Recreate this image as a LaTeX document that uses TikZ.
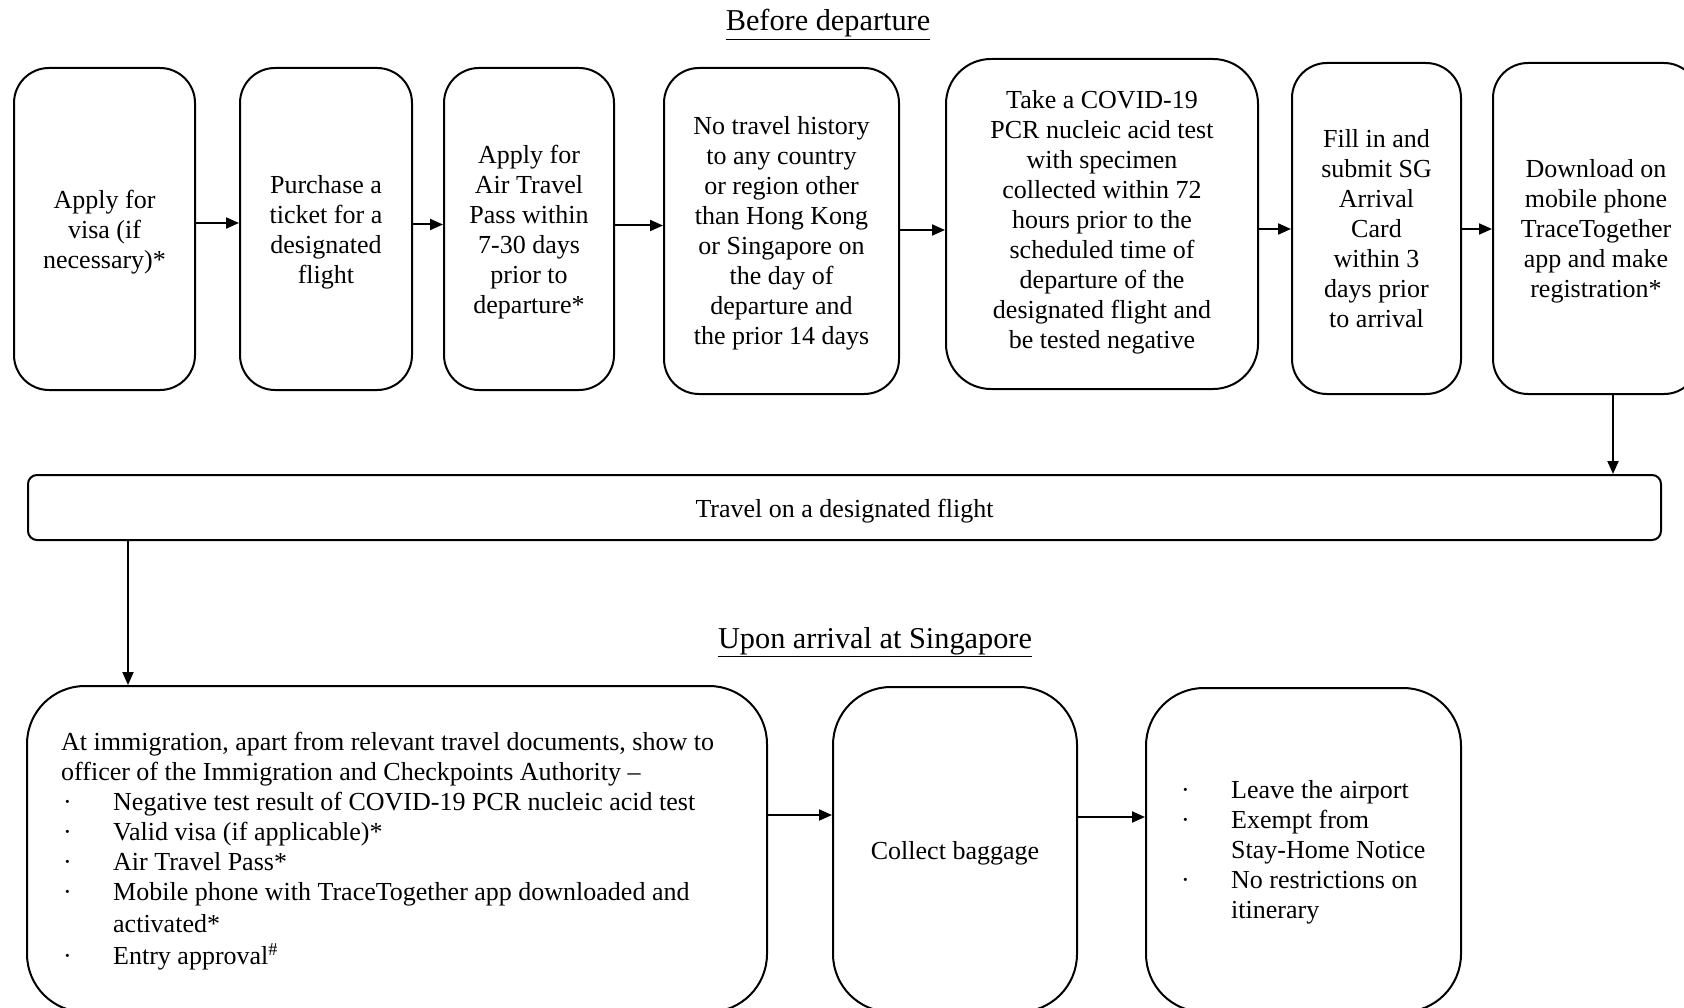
\documentclass[tikz,border=0pt]{standalone}
\usepackage{fontspec}
\setmainfont{Liberation Serif}
\usetikzlibrary{arrows.meta}
\begin{document}
\begin{tikzpicture}[x=1pt,y=-1pt,
  box/.style={draw, line width=2pt, rounded corners=35pt, inner sep=0pt},
  lbl/.style={inner sep=0pt, align=center, font=\fontsize{26}{30}\selectfont},
  txt/.style={inner sep=0pt, align=left, font=\fontsize{26}{30}\selectfont},
  arr/.style={line width=2pt, -{Triangle[length=13pt,width=11pt]}},
  heading/.style={inner sep=0pt, anchor=base, font=\fontsize{30.3}{36}\selectfont}]
\useasboundingbox (0,0) rectangle (1684,1008);
\clip (0,0) rectangle (1684,1008);

\node[heading] (t1) at (828,31) {\underline{Before departure}};
\node[heading] (t2) at (875,648) {\underline{Upon arrival at Singapore}};

\node[box, minimum width=181, minimum height=322,
  label={[lbl,yshift=-3pt]center:{Apply for\\visa (if\\necessary)*}}] (b1) at (104.5,229) {};
\node[box, minimum width=172, minimum height=322,
  label={[lbl,yshift=-3pt]center:{Purchase a\\ticket for a\\designated\\flight}}] (b2) at (326,229) {};
\node[box, minimum width=170, minimum height=322,
  label={[lbl,yshift=-3pt]center:{Apply for\\Air Travel\\Pass within\\7-30 days\\prior to\\departure*}}] (b3) at (529,229) {};
\node[box, minimum width=235, minimum height=326,
  label={[lbl,yshift=-2pt]center:{No travel history\\to any country\\or region other\\than Hong Kong\\or Singapore on\\the day of\\departure and\\the prior 14 days}}] (b4) at (781.5,231) {};
\node[box, rounded corners=45pt, minimum width=312, minimum height=330,
  label={[lbl,yshift=2pt]center:{Take a COVID-19\\PCR nucleic acid test\\with specimen\\collected within 72\\hours prior to the\\scheduled time of\\departure of the\\designated flight and\\be tested negative}}] (b5) at (1102,224) {};
\node[box, minimum width=169, minimum height=331,
  label={[lbl]center:{Fill in and\\submit SG\\Arrival\\Card\\within 3\\days prior\\to arrival}}] (b6) at (1376.5,228.5) {};
\node[box, minimum width=206, minimum height=331,
  label={[lbl,yshift=-3pt]center:{Download on\\mobile phone\\TraceTogether\\app and make\\registration*}}] (b7) at (1596,228.5) {};

\node[box, rounded corners=9pt, minimum width=1633, minimum height=65,
  label={[lbl,yshift=-4pt]center:{Travel on a designated flight}}] (fly) at (844.5,507.5) {};

\node[box, rounded corners=58pt, minimum width=740, minimum height=326] (big) at (397,849) {};
\node[txt, anchor=north west] (bigtxt) at ([xshift=35pt,yshift=-47pt]big.north west)
  {At immigration, apart from relevant travel documents, show to\\
   officer of the Immigration and Checkpoints Authority –\\
   \makebox[52pt][l]{\hspace{2pt}·}Negative test result of COVID-19 PCR nucleic acid test\\
   \makebox[52pt][l]{\hspace{2pt}·}Valid visa (if applicable)*\\
   \makebox[52pt][l]{\hspace{2pt}·}Air Travel Pass*\\
   \makebox[52pt][l]{\hspace{2pt}·}Mobile phone with TraceTogether app downloaded and\\[1.5pt]
   \hspace*{52pt}activated*\\[2.5pt]
   \makebox[52pt][l]{\hspace{2pt}·}Entry approval\textsuperscript{\#}};

\node[box, rounded corners=58pt, minimum width=244, minimum height=325,
  label={[lbl,yshift=-4pt]center:{Collect baggage}}] (bag) at (955,849.5) {};

\node[box, rounded corners=58pt, minimum width=315, minimum height=324] (leave) at (1303.5,850) {};
\node[txt, anchor=west] (leavetxt) at ([xshift=34pt,yshift=-2pt]leave.west)
  {\makebox[52pt][l]{\hspace{2pt}·}Leave the airport\\
   \makebox[52pt][l]{\hspace{2pt}·}Exempt from\\
   \hspace*{52pt}Stay-Home Notice\\
   \makebox[52pt][l]{\hspace{2pt}·}No restrictions on\\
   \hspace*{52pt}itinerary};

\draw[arr] (b1.east |- 0,223) -- (b2.west |- 0,223);
\draw[arr] (b2.east |- 0,224.5) -- (b3.west |- 0,224.5);
\draw[arr] (b3.east |- 0,225.5) -- (b4.west |- 0,225.5);
\draw[arr] (b4.east |- 0,230) -- (b5.west |- 0,230);
\draw[arr] (b5.east |- 0,229) -- (b6.west |- 0,229);
\draw[arr] (b6.east |- 0,229) -- (b7.west |- 0,229);
\draw[arr] (b7.south -| 1613,0) -- (fly.north -| 1613,0);
\draw[arr] (fly.south -| 128,0) -- (big.north -| 128,0);
\draw[arr] (big.east |- 0,815) -- (bag.west |- 0,815);
\draw[arr] (bag.east |- 0,817) -- (leave.west |- 0,817);
\end{tikzpicture}
\end{document}
